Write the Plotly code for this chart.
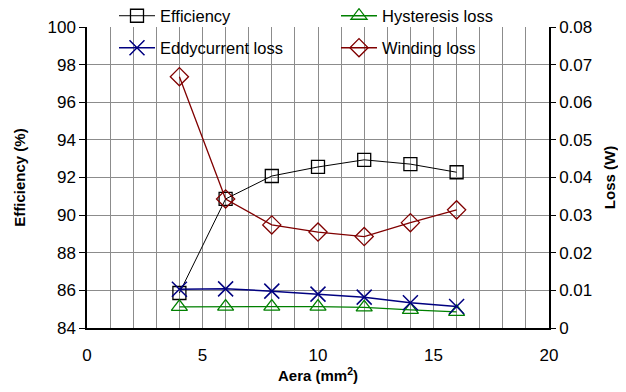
import plotly.graph_objects as go

area = [4, 6, 8, 10, 12, 14, 16]
efficiency = [85.86, 90.86, 92.08, 92.56, 92.94, 92.71, 92.28]
hysteresis_loss = [0.0056, 0.0057, 0.0057, 0.0057, 0.0055, 0.0048, 0.0043]
eddy_loss = [0.0103, 0.0104, 0.0098, 0.0090, 0.0082, 0.0067, 0.0057]
winding_loss = [0.0668, 0.0343, 0.0274, 0.0255, 0.0243, 0.0280, 0.0314]

FONT = "Liberation Sans, Arial, sans-serif"
W, H = 618, 384   # page has an 8px body margin
OFF = 8

fig = go.Figure()
fig.add_trace(go.Scatter(x=area, y=efficiency, name="Efficiency", mode="lines+markers",
                         line=dict(color="black", width=1),
                         marker=dict(symbol="square-open", size=13, color="black", line=dict(width=1.3)),
                         legend="legend", showlegend=True))
fig.add_trace(go.Scatter(x=area, y=hysteresis_loss, name="Hysteresis loss", mode="lines+markers",
                         yaxis="y2", line=dict(color="#008000", width=1.3),
                         marker=dict(symbol="triangle-up-open", size=14, color="#008000", line=dict(width=1.3)),
                         legend="legend2", showlegend=True))
fig.add_trace(go.Scatter(x=area, y=eddy_loss, name="Eddycurrent loss", mode="lines+markers",
                         yaxis="y2", line=dict(color="#000080", width=1.5),
                         marker=dict(symbol="x-thin-open", size=15, color="#000080", line=dict(width=1.5, color="#000080")),
                         legend="legend3", showlegend=True))
fig.add_trace(go.Scatter(x=area, y=winding_loss, name="Winding loss", mode="lines+markers",
                         yaxis="y2", line=dict(color="#800000", width=1.3),
                         marker=dict(symbol="diamond-open", size=14, color="#800000", line=dict(width=1.3)),
                         legend="legend4", showlegend=True))

# white band covering the top strip of grid (legend area in reference)
fig.add_shape(type="rect", xref="paper", yref="paper", x0=0.003, x1=0.997,
              y0=(98.06 - 84) / 16, y1=1.01, fillcolor="white", line=dict(width=0), layer="between")

grid = "#8c8c8c"


def leg(xpx, ypx):
    return dict(xref="container", yref="container", x=(xpx - OFF) / W, y=1 - (ypx - OFF) / H,
                xanchor="left", yanchor="middle", bgcolor="rgba(0,0,0,0)",
                font=dict(size=16.5), itemwidth=36, orientation="h", visible=True)


fig.update_layout(
    width=W, height=H,
    margin=dict(l=79, r=77, t=19, b=64, autoexpand=False),
    paper_bgcolor="white", plot_bgcolor="white",
    font=dict(family=FONT, size=16, color="black"),
    xaxis=dict(range=[0, 20], dtick=5, showgrid=True, gridcolor=grid, gridwidth=1,
               minor=dict(dtick=1, showgrid=True, gridcolor=grid, gridwidth=1),
               showline=True, linecolor="black", linewidth=1.5, ticks="",
               ticklabelstandoff=11, tickfont=dict(size=17), zeroline=False,
               title=dict(text="<b>Aera (mm<sup>2</sup>)</b>", font=dict(size=15), standoff=2)),
    yaxis=dict(range=[84, 100], dtick=2, showgrid=True, gridcolor=grid, gridwidth=1,
               showline=True, linecolor="black", linewidth=1.5, ticks="outside", ticklen=6,
               tickcolor="black", tickfont=dict(size=17), zeroline=False,
               title=dict(text="<b>Efficiency (%)</b>", font=dict(size=15), standoff=18)),
    yaxis2=dict(range=[0, 0.08], dtick=0.01, overlaying="y", side="right", showgrid=False,
                showline=True, linecolor="black", linewidth=1.5, ticks="outside", ticklen=5,
                tickcolor="black", tickfont=dict(size=17), zeroline=False, tickformat=".2~f",
                title=dict(text="<b>Loss (W)</b>", font=dict(size=15), standoff=13)),
    legend=leg(114, 16),
    legend2=leg(336, 16),
    legend3=leg(114, 48),
    legend4=leg(336, 48),
)

fig.write_html("out.html")
